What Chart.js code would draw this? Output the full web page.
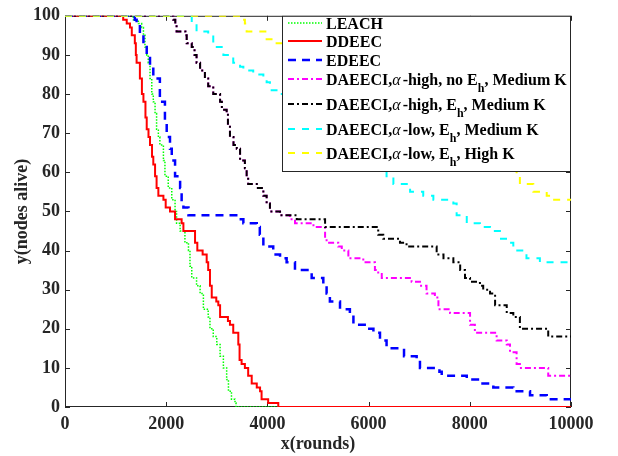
<!DOCTYPE html>
<html>
<head>
<meta charset="utf-8">
<script src="https://cdn.jsdelivr.net/npm/chart.js@4.4.1/dist/chart.umd.min.js"></script>
<style>
  body { margin: 0; background: #fff; }
  #wrap { width: 618px; height: 456px; }
</style>
</head>
<body>
<div id="wrap"><canvas id="nodes" width="618" height="456"></canvas></div>
<script>
// rounds at which the number of alive nodes changes -> [round, nodes]
var leach = [[0,100],[1350,99],[1450,98],[1515,97],[1550,95],[1580,92],[1615,90],[1645,88],[1680,84],[1715,80],[1745,78],[1780,75],[1810,71],[1845,69],[1875,67],[1945,63],[1975,59],[2040,56],[2110,53],[2175,50],[2205,47],[2275,45],[2370,42],[2440,40],[2470,36],[2505,33],[2600,31],[2670,29],[2735,25],[2830,23],[2865,20],[2930,18],[3000,16],[3065,13],[3130,10],[3195,7],[3230,4],[3290,2],[3360,1],[3380,0],[10000,0]];
var ddeec = [[0,100],[1150,99],[1220,98],[1285,97],[1320,95],[1380,93],[1400,90],[1415,88],[1480,84],[1520,80],[1550,78],[1590,74],[1615,71],[1650,69],[1680,67],[1720,64],[1745,62],[1780,59],[1810,56],[1845,54],[1945,53],[1990,51],[2075,50],[2175,48],[2305,47],[2340,45],[2570,42],[2615,40],[2720,39],[2800,37],[2830,35],[2865,31],[2900,28],[2990,27],[3030,26],[3065,23],[3220,22],[3260,21],[3325,19],[3425,16],[3450,12],[3490,11],[3555,10],[3620,8],[3690,6],[3790,5],[3855,4],[3885,2],[4015,1],[4215,0],[10000,0]];
var edeec = [[0,100],[1380,99],[1415,98],[1480,95],[1550,92],[1615,90],[1680,87],[1745,84],[1875,78],[1975,72],[2010,69],[2075,66],[2110,63],[2175,59],[2275,56],[2305,52],[2340,51],[2440,49],[3425,48],[3525,47],[3790,46],[3850,44],[3920,41],[4115,39],[4250,38],[4380,37],[4545,35],[4875,33],[5105,31],[5170,29],[5235,27],[5435,25],[5630,24],[5700,21],[5965,20],[6095,19],[6225,17],[6355,15],[6700,13],[6950,12],[7015,10],[7400,9],[7445,8],[7940,7],[8200,6],[8465,5],[8860,4],[9190,3],[9520,2],[10000,1]];
var highNoEh = [[0,100],[2140,99],[2180,98],[2205,96],[2380,95],[2405,93],[2505,92],[2560,90],[2600,88],[2670,86],[2765,84],[2830,82],[2930,80],[3065,78],[3100,76],[3195,75],[3220,72],[3260,69],[3330,67],[3395,66],[3460,63],[3555,61],[3590,59],[3620,57],[3790,56],[3920,54],[3985,52],[4050,50],[4250,49],[4445,48],[4545,47],[4910,46],[5140,43],[5170,42],[5400,41],[5470,40],[5600,38],[5895,37],[6125,35],[6190,34],[6260,33],[6850,32],[7015,31],[7145,29],[7310,28],[7380,25],[7610,24],[8005,21],[8100,19],[8530,17],[8730,16],[8795,14],[8925,11],[8990,10],[9550,8],[10000,8]];
var highEh = [[0,100],[2140,99],[2180,98],[2205,96],[2380,95],[2405,93],[2505,92],[2560,90],[2600,88],[2670,86],[2765,84],[2830,82],[2930,80],[3065,78],[3100,76],[3195,75],[3220,72],[3260,69],[3330,67],[3395,66],[3460,63],[3555,61],[3590,59],[3620,57],[3790,56],[3920,54],[3985,52],[4050,50],[4250,49],[4580,48],[5140,46],[6190,44],[6290,43],[6620,42],[6750,41],[7345,39],[7480,38],[7675,37],[7810,35],[7905,33],[8005,32],[8200,31],[8265,30],[8400,29],[8500,26],[8730,24],[8860,23],[8990,20],[9550,18],[10000,18]];
var lowEhMedK = [[0,100],[2505,98],[2600,96],[2830,95],[2930,93],[3000,92],[3130,90],[3325,88],[3460,87],[3525,86],[3720,85],[3920,84],[3985,83],[4050,81],[4180,80],[4400,78],[4700,75],[5000,72],[5400,69],[5700,66],[6000,63],[6200,61],[6355,59],[6490,57],[6820,55],[7080,54],[7280,53],[7675,52],[7740,49],[7940,47],[8200,46],[8400,45],[8595,43],[8760,42],[8860,40],[9120,38],[9385,37],[10000,37]];
var lowEhHighK = [[0,100],[3460,99],[3555,98],[3590,96],[3985,94],[4115,93],[4500,91],[5000,88],[5500,84],[6000,80],[6500,76],[7000,72],[7500,68],[8000,65],[8500,62],[8925,59],[8990,57],[9255,55],[9520,54],[9620,53],[10000,53]];

var labels = ['LEACH', 'DDEEC', 'EDEEC',
  'DAEECI,α-high, no E_h, Medium K',
  'DAEECI,α-high, E_h, Medium K',
  'DAEECI,α-low, E_h, Medium K',
  'DAEECI,α-low, E_h, High K'];
var xTicks = [0, 2000, 4000, 6000, 8000, 10000];
var yTicks = [0, 10, 20, 30, 40, 50, 60, 70, 80, 90, 100];

var serif = '"Liberation Serif", "Times New Roman", serif';
var axisColor = '#262626';

var styles = [
  {color: '#00ff00', dash: [1.5, 1.5], width: 1.5},
  {color: '#ff0000', dash: [], width: 2},
  {color: '#0000ff', dash: [8, 6], width: 2.5},
  {color: '#ff00ff', dash: [6, 3, 2, 3], width: 2},
  {color: '#000000', dash: [6, 3, 2, 3], width: 2},
  {color: '#00ffff', dash: [7, 7], width: 2},
  {color: '#ffff00', dash: [7, 7], width: 2}
];
var allData = [leach, ddeec, edeec, highNoEh, highEh, lowEhMedK, lowEhHighK];

var datasets = allData.map(function(d, i) {
  return {
    label: labels[i].replace('_', ''),
    data: d.map(function(p) { return {x: p[0], y: p[1]}; }),
    borderColor: styles[i].color,
    borderDash: styles[i].dash,
    borderWidth: styles[i].width,
    stepped: true,
    pointRadius: 0,
    fill: false,
    order: allData.length - i  // later series on top, like matlab
  };
});

// draw the axes box with inward ticks on all four sides
var boxPlugin = {
  id: 'box',
  beforeDatasetsDraw: function(chart) {
    var ctx = chart.ctx, a = chart.chartArea;
    var xs = chart.scales.x, ys = chart.scales.y;
    var tl = 5;
    ctx.save();
    ctx.strokeStyle = axisColor;
    ctx.lineWidth = 1;
    ctx.beginPath();
    xTicks.forEach(function(v) {
      var px = Math.round(xs.getPixelForValue(v)) + 0.5;
      ctx.moveTo(px, a.bottom); ctx.lineTo(px, a.bottom - tl);
      ctx.moveTo(px, a.top); ctx.lineTo(px, a.top + tl);
    });
    yTicks.forEach(function(v) {
      var py = Math.round(ys.getPixelForValue(v)) + 0.5;
      ctx.moveTo(a.left, py); ctx.lineTo(a.left + tl, py);
      ctx.moveTo(a.right, py); ctx.lineTo(a.right - tl, py);
    });
    ctx.stroke();
    ctx.strokeRect(a.left + 0.5, a.top + 0.5, a.right - a.left - 1, a.bottom - a.top - 1);
    ctx.restore();
  }
};

// matlab-like legend box in the upper right, with alpha and subscripts
function drawRich(ctx, text, x, y) {
  var i = 0;
  while (i < text.length) {
    var ch = text[i];
    if (ch === 'α') {
      ctx.font = 'italic 16px ' + serif;
      ctx.fillText(ch, x, y);
      x += ctx.measureText(ch).width + 2;
      i++;
    } else if (ch === '_') {
      ctx.font = 'bold 12px ' + serif;
      ctx.fillText(text[i + 1], x, y + 7);
      x += ctx.measureText(text[i + 1]).width;
      i += 2;
    } else {
      var j = i;
      while (j < text.length && text[j] !== 'α' && text[j] !== '_') j++;
      var part = text.slice(i, j);
      ctx.font = 'bold 16px ' + serif;
      ctx.fillText(part, x, y);
      x += ctx.measureText(part).width;
      i = j;
    }
  }
}

var legendPlugin = {
  id: 'boxLegend',
  afterDraw: function(chart) {
    var ctx = chart.ctx, a = chart.chartArea;
    var x0 = 282, y0 = a.top, x1 = a.right, y1 = 172;
    var rows = [23, 41, 60, 79, 104, 129, 153];
    ctx.save();
    ctx.fillStyle = '#ffffff';
    ctx.fillRect(x0, y0, x1 - x0, y1 - y0);
    ctx.strokeStyle = axisColor;
    ctx.lineWidth = 1;
    ctx.strokeRect(x0 + 0.5, y0 + 0.5, x1 - x0 - 1, y1 - y0 - 1);
    rows.forEach(function(ry, i) {
      ctx.beginPath();
      ctx.strokeStyle = styles[i].color;
      ctx.lineWidth = styles[i].width;
      ctx.setLineDash(styles[i].dash);
      ctx.moveTo(288, ry);
      ctx.lineTo(322, ry);
      ctx.stroke();
      ctx.setLineDash([]);
      ctx.fillStyle = '#000000';
      ctx.textBaseline = 'alphabetic';
      drawRich(ctx, labels[i], 326, ry + 5.5);
    });
    ctx.restore();
  }
};

var chart = new Chart(document.getElementById('nodes'), {
  type: 'line',
  data: {datasets: datasets},
  plugins: [boxPlugin, legendPlugin],
  options: {
    responsive: false,
    animation: false,
    layout: {padding: {top: 11, right: 47, left: 0, bottom: 0}},
    plugins: {legend: {display: false}, tooltip: {enabled: false}},
    scales: {
      x: {
        type: 'linear', min: 0, max: 10000,
        afterBuildTicks: function(s) { s.ticks = xTicks.map(function(v) { return {value: v}; }); },
        afterFit: function(s) { s.height = 49; },
        grid: {display: false, drawTicks: false},
        border: {display: false},
        ticks: {color: axisColor, padding: 7, maxRotation: 0, callback: function(v) { return String(v); }, font: {family: serif, size: 18, weight: 'bold'}},
        title: {display: true, text: 'x(rounds)', color: axisColor, padding: {top: 0, bottom: 1}, font: {family: serif, size: 18, weight: 'bold'}}
      },
      y: {
        min: 0, max: 100,
        afterBuildTicks: function(s) { s.ticks = yTicks.map(function(v) { return {value: v}; }); },
        afterFit: function(s) { s.width = 65; },
        grid: {display: false, drawTicks: false},
        border: {display: false},
        ticks: {color: axisColor, padding: 5, callback: function(v) { return String(v); }, font: {family: serif, size: 18, weight: 'bold'}},
        title: {display: true, text: 'y(nodes alive)', color: axisColor, padding: {top: 12, bottom: 0}, font: {family: serif, size: 18, weight: 'bold'}}
      }
    }
  }
});
</script>
</body>
</html>
